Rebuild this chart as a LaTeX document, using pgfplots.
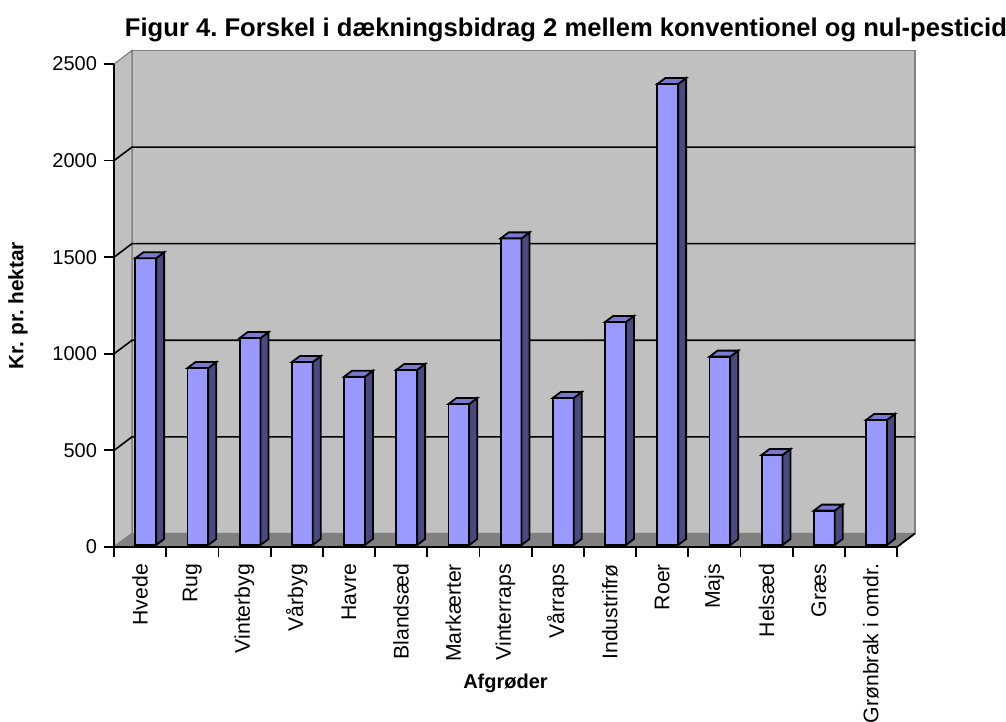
\documentclass[border=0pt]{standalone}
\usepackage{pgfplots}
\pgfplotsset{compat=1.18}
\usepackage{pgfplotstable}
\usepackage{fontspec}
\setmainfont{Liberation Sans}
\frenchspacing
\definecolor{barfront}{HTML}{9999FF}
\definecolor{barside}{HTML}{4A4A80}
\definecolor{bartop}{HTML}{7A7ACC}
\definecolor{wall}{HTML}{C0C0C0}
\definecolor{floorc}{HTML}{808080}
\definecolor{edge}{HTML}{808080}

\pgfplotstableread{
x v
0 1484
1 916
2 1071
3 947
4 871
5 906
6 730
7 1587
8 761
9 1154
10 2386
11 975
12 466
13 178
14 647
}\data

\pgfdeclareplotmark{bar3d}{%
  \pgfmathsetmacro\hb{1-\barval*0.0966}%
  \pgfsetlinewidth{0.9pt}\pgfsetstrokecolor{black}%
  \pgfsetfillcolor{barfront}%
  \pgfpathrectanglecorners{\pgfpoint{-2.4pt}{\hb pt}}{\pgfpoint{8pt}{1pt}}%
  \pgfusepath{fill,stroke}%
  \pgfsetfillcolor{barside}%
  \pgfpathmoveto{\pgfpoint{8pt}{\hb pt}}%
  \pgfpathlineto{\pgfpoint{12pt}{\hb pt+3pt}}%
  \pgfpathlineto{\pgfpoint{12pt}{4pt}}%
  \pgfpathlineto{\pgfpoint{8pt}{1pt}}%
  \pgfpathclose
  \pgfusepath{fill,stroke}%
  \pgfsetfillcolor{bartop}%
  \pgfpathmoveto{\pgfpoint{-2.4pt}{1pt}}%
  \pgfpathlineto{\pgfpoint{8pt}{1pt}}%
  \pgfpathlineto{\pgfpoint{12pt}{4pt}}%
  \pgfpathlineto{\pgfpoint{1.6pt}{4pt}}%
  \pgfpathclose
  \pgfusepath{fill,stroke}%
}

\begin{document}
\begin{tikzpicture}
\useasboundingbox (0,0) rectangle (503pt,361pt);
\begin{axis}[
  at={(57pt,87.5pt)}, anchor=south west,
  scale only axis, width=391.5pt, height=241.5pt,
  xmin=-0.5, xmax=14.5, ymin=0, ymax=2500,
  clip=false, axis on top,
  separate axis lines,
  axis x line*=bottom, axis y line*=left,
  axis line style={-, line width=0.9pt, black},
  ytick={0,500,...,2500},
  xtick={-0.5,0.5,...,14.5},
  x tick label as interval,
  xticklabels={Hvede,Rug,Vinterbyg,Vårbyg,Havre,Blandsæd,Markærter,Vinterraps,Vårraps,Industrifrø,Roer,Majs,Helsæd,Græs,Grønbrak i omdr.},
  tick align=outside,
  major tick length=5pt,
  tick style={black, line width=0.9pt},
  /pgf/number format/assume math mode=true,
  /pgf/number format/1000 sep={},
  yticklabel style={font=\fontsize{10}{12}\selectfont},
  xticklabel style={font=\fontsize{10.6}{12}\selectfont, rotate=90, anchor=east},
  title={Figur 4. Forskel i dækningsbidrag 2 mellem konventionel og nul-pesticid},
  every axis title/.style={at={(axis description cs:0.005,1.056)}, anchor=base west, font=\bfseries\fontsize{12.8}{14}\selectfont},
  xlabel={Afgrøder},
  every axis x label/.style={at={(axis description cs:0.5,-0.2816)}, anchor=center, font=\bfseries\fontsize{10}{12}\selectfont},
  ylabel={Kr. pr. hektar},
  every axis y label/.style={at={(axis description cs:-0.1226,0.5)}, rotate=90, anchor=center, font=\bfseries\fontsize{10.4}{12}\selectfont},
]
% walls and floor
\addplot[fill=wall, draw=edge, line width=0.6pt] coordinates {(-0.155,70) (14.845,70) (14.845,2570) (-0.155,2570)} --cycle;
\addplot[fill=wall, draw=edge, line width=0.6pt] coordinates {(-0.5,0) (-0.155,70) (-0.155,2570) (-0.5,2500)} --cycle;
\addplot[fill=floorc, draw=edge, line width=0.6pt] coordinates {(-0.5,0) (14.5,0) (14.845,70) (-0.155,70)} --cycle;
% gridlines
\addplot[black, line width=0.8pt] coordinates {(-0.5,500) (-0.155,570) (14.845,570)};
\addplot[black, line width=0.8pt] coordinates {(-0.5,1000) (-0.155,1070) (14.845,1070)};
\addplot[black, line width=0.8pt] coordinates {(-0.5,1500) (-0.155,1570) (14.845,1570)};
\addplot[black, line width=0.8pt] coordinates {(-0.5,2000) (-0.155,2070) (14.845,2070)};
\addplot[black, line width=0.9pt] coordinates {(14.5,0) (14.845,70)};
% bars
\addplot[only marks, mark=bar3d, visualization depends on={\thisrow{v}\as\barval}] table[x=x,y=v]{\data};
\end{axis}
\end{tikzpicture}
\end{document}
